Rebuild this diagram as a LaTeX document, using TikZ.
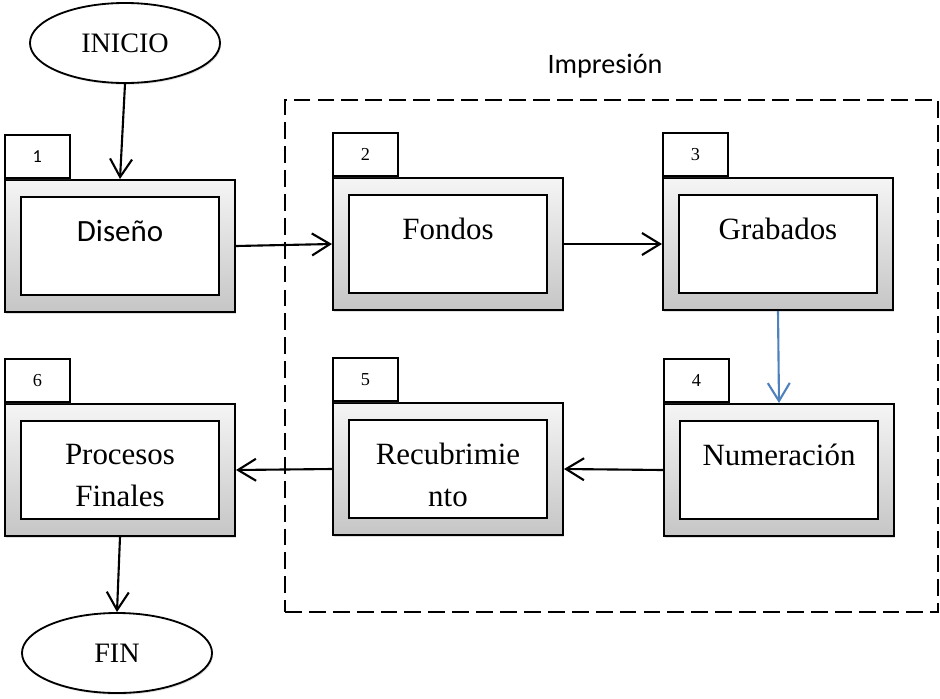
\documentclass[tikz,border=0pt]{standalone}
\usepackage{fontspec}
\setmainfont{Liberation Serif}
\newfontfamily\calibri{Carlito}
\usetikzlibrary{calc,positioning,shapes.geometric,arrows.meta,shadows}

\definecolor{flowblue}{RGB}{79,129,189}

\tikzset{
  stage/.style={draw, line width=1.4pt, top color=gray!8, bottom color=gray!45,
    minimum width=5.75cm, minimum height=3.3cm,
    drop shadow={opacity=0.25, shadow xshift=0.8pt, shadow yshift=-1.2pt}},
  stagein/.style={draw, fill=white, line width=1.4pt,
    minimum width=4.925cm, minimum height=2.45cm},
  stagetext/.style={align=center, inner sep=0pt, anchor=north,
    font=\fontsize{22}{30}\selectfont},
  stagetab/.style={draw, fill=white, line width=1.2pt, anchor=south west,
    minimum width=1.625cm, minimum height=1.075cm,
    font=\fontsize{13}{15}\selectfont,
    drop shadow={opacity=0.2, shadow xshift=0.8pt, shadow yshift=-1.2pt}},
  terminal/.style={draw, ellipse, fill=white, line width=1.3pt,
    minimum width=4.75cm, minimum height=2cm,
    font=\fontsize{20}{24}\selectfont,
    drop shadow={opacity=0.25, shadow xshift=0.8pt, shadow yshift=-1.2pt}},
  flow/.style={line width=1.5pt, -{Straight Barb[length=4.5mm,width=5.5mm]}}
}

\begin{document}
\begin{tikzpicture}[x=0.025cm, y=-0.025cm]

% one process box: name, x, y, number, text
\newcommand\DrawStage[5]{%
  \node[stage] (#1) at (#2,#3) {};
  \node[stagein] (#1in) at (#1.center) {};
  \node[stagetext] (#1txt) at ($(#1.center)+(0,-26)$) {#5};
  \node[stagetab] (#1tab) at (#1.north west) {#4};
}

\useasboundingbox (0,0) rectangle (940,698);

% the "Impresion" frame
\node[draw, line width=1.2pt, dash pattern=on 12pt off 5pt,
  minimum width=16.325cm, minimum height=12.8cm] (imp) at (611.5,356) {};
\node[font=\calibri\fontsize{20}{24}\selectfont] (imptitle) at (605,66) {Impresión};

\node[terminal] (inicio) at (125,43) {INICIO};
\node[terminal] (fin) at (117,653) {FIN};

\DrawStage{d1}{120}{246}{\calibri 1}{\calibri Diseño}
\DrawStage{d2}{448}{244}{2}{Fondos}
\DrawStage{d3}{778}{244}{3}{Grabados}
\DrawStage{d4}{779}{470}{4}{Numeración}
\DrawStage{d5}{448}{469}{5}{Recubrimie\\nto}
\DrawStage{d6}{120}{470}{6}{Procesos\\Finales}

\draw[flow] (inicio.south) -- (d1.north);
\draw[flow] (d1.east) -- (d2.west);
\draw[flow] (d2.east) -- (d3.west);
\draw[flow, color=flowblue] (d3.south) -- (d4.north);
\draw[flow] (d4.west) -- (d5.east);
\draw[flow] (d5.west) -- (d6.east);
\draw[flow] (d6.south) -- (fin.north);
\end{tikzpicture}
\end{document}
